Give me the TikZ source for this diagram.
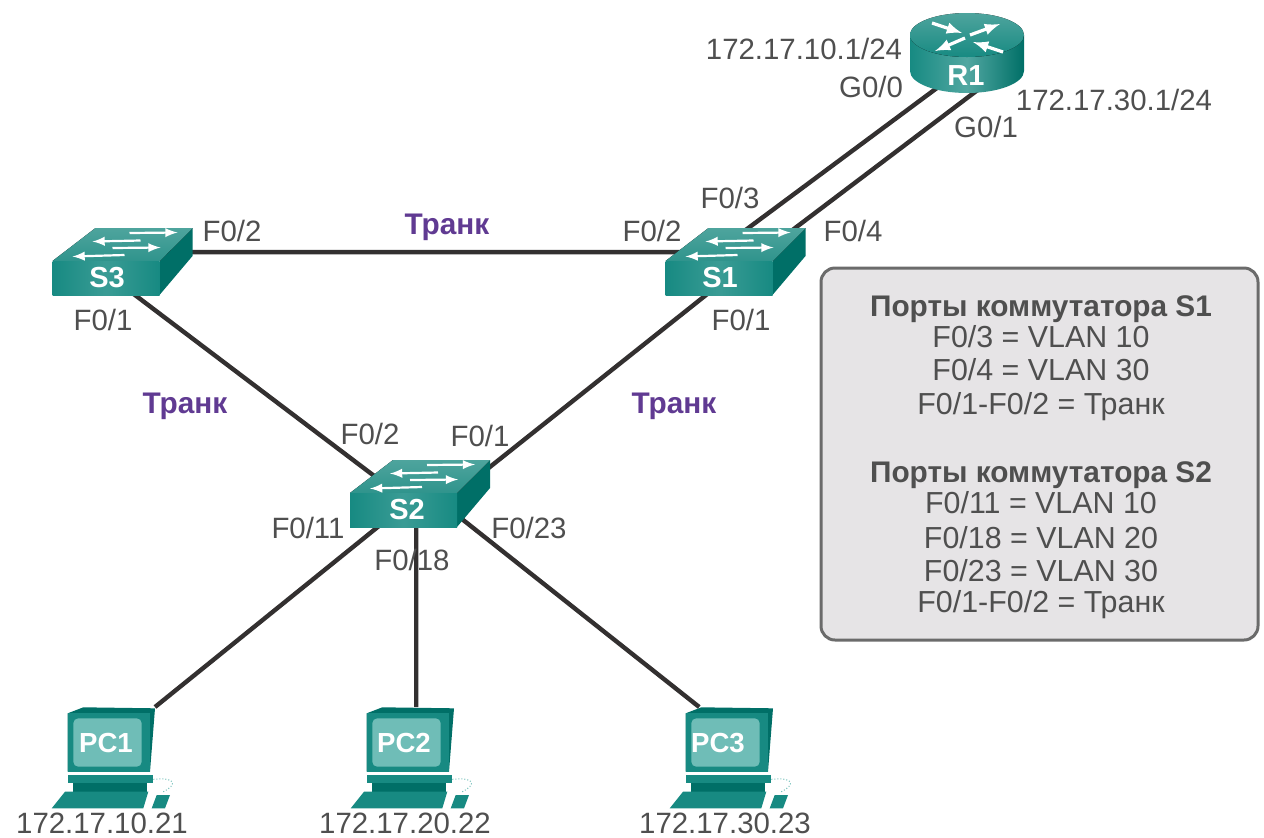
\documentclass[tikz,border=0pt]{standalone}
\usepackage{fontspec}
\setmainfont{Liberation Sans}
\definecolor{labelgray}{HTML}{4F4F4F}
\definecolor{trunkviolet}{HTML}{603A92}
\definecolor{tealtop}{HTML}{2F948C}
\definecolor{tealfront}{HTML}{178A82}
\definecolor{tealside}{HTML}{006F67}
\definecolor{tealscreen}{HTML}{6FBDB7}
\definecolor{boxgray}{HTML}{E6E4E6}
\definecolor{boxline}{HTML}{6B6B6B}
\definecolor{linkgray}{HTML}{333030}

\tikzset{
  devbox/.style={inner sep=0, outer sep=0},
  link/.style={draw=linkgray, line width=2.2pt},
  port/.style={text=labelgray, inner sep=0, font=\fontsize{14.7}{16}\selectfont},
  trunk/.style={text=trunkviolet, inner sep=0, font=\fontsize{14.9}{16}\selectfont\bfseries},
  devlabel/.style={text=white, inner sep=0, font=\fontsize{14.5}{16}\selectfont\bfseries},
  pclabel/.style={devlabel, font=\fontsize{13.8}{16}\selectfont\bfseries},
  infoline/.style={text=labelgray, inner sep=0, font=\fontsize{15.2}{16}\selectfont},
  infohead/.style={infoline, font=\fontsize{14.9}{16}\selectfont\bfseries},
  whitearrow/.style={->, >=latex, draw=white, line width=1.1pt},
  bigarrow/.style={whitearrow, line width=1.6pt},
  switchicon/.pic={
    \fill[tealside] (140,0) -- (140,28) -- (107,67) -- (107,33) -- cycle;
    \fill[top color=tealtop!85!white, bottom color=tealtop] (0,33) -- (43,0) -- (140,0) -- (107,33) -- cycle;
    \shade[left color=tealfront, right color=tealfront, middle color=tealfront!85!white] (0,33) rectangle (107,67);
    \draw[whitearrow] (77,5) -- (125,4.5);
    \draw[whitearrow] (88,12.5) -- (40,13.5);
    \draw[whitearrow] (60,20) -- (108,19.5);
    \draw[whitearrow] (72,27) -- (20,28.5);
  },
  routericon/.pic={
    \shade[left color=tealfront, right color=tealside, middle color=tealfront!75!white]
      (0,22) -- (0,58) arc[start angle=180, end angle=360, x radius=57, y radius=-22] -- (114,22) -- cycle;
    \fill[top color=tealtop!85!white, bottom color=tealfront] (57,22) ellipse[x radius=57, y radius=22];
    \draw[bigarrow] (22,10) -- (52,20);
    \draw[bigarrow] (93,39) -- (63,29);
    \draw[bigarrow] (60,22) -- (90,11);
    \draw[bigarrow] (55,25) -- (25,38);
  },
  pcicon/.pic={
    \fill[tealside] (15.7,6.3) -- (31.3,0.3) -- (103,1.3) -- (98,64.7) -- (15.7,64.7) -- cycle;
    \fill[tealfront] (15.7,6.3) rectangle (98,64.7);
    \fill[tealscreen, rounded corners=2.5pt] (21.3,11.3) rectangle (89.7,59.7);
    \fill[tealfront] (16.3,68) rectangle (101,76.3);
    \fill[tealside] (21.3,76.3) rectangle (94.7,84.7);
    \fill[tealfront] (-0.3,101.3) -- (13,84.7) -- (96.3,84.7) -- (91.3,101.3) -- cycle;
    \fill[tealfront] (99.7,101.3) -- (104.7,88) -- (118,88) -- (113,101.3) -- cycle;
    \draw[tealscreen, densely dotted, line width=0.5pt] (101.3,72.3) .. controls (125,70) and (125,78) .. (111.3,84.7);
  }
}

\begin{document}
\begin{tikzpicture}[x=0.5pt, y=-0.5pt]
  \clip (0,0) rectangle (1264,837);

  % devices, the icons go on top of the links later
  \node[devbox, minimum width=57pt, minimum height=20pt] (R1) at (967,60) {};
  \node[devbox, minimum width=35pt, minimum height=20pt] (S1) at (735.5,261.5) {};
  \node[devbox, minimum width=35pt, minimum height=20pt] (S3) at (122.5,261.5) {};
  \node[devbox, minimum width=35pt, minimum height=20pt] (S2) at (420,493.5) {};
  \node[devbox, minimum width=43.5pt, minimum height=32.5pt] (PC1) at (111.5,739.5) {};
  \node[devbox, minimum width=43.5pt, minimum height=32.5pt] (PC2) at (410.5,739.5) {};
  \node[devbox, minimum width=43.5pt, minimum height=32.5pt] (PC3) at (729.5,739.5) {};

  \draw[link]
    (R1.226) -- (S1.105)
    (R1.320) -- (S1.23)
    (S3.15)  -- (S1.165)
    (S3.255) -- (S2.165)
    (S1.238) -- (S2.358)
    (S2.218) -- (PC1.north east)
    (S2.south -| PC2.80) -- (PC2.80)
    (S2.south east) -- (PC3.133);

  \pic at ([shift={(-57,-47)}]R1.center) {routericon};
  \pic at ([shift={(-70,-33.5)}]S1.center) {switchicon};
  \pic at ([shift={(-70,-33.5)}]S3.center) {switchicon};
  \pic at ([shift={(-70,-33.5)}]S2.center) {switchicon};
  \pic at ([shift={(-59.5,-32.5)}]PC1.center) {pcicon};
  \pic at ([shift={(-59.5,-32.5)}]PC2.center) {pcicon};
  \pic at ([shift={(-59.5,-32.5)}]PC3.center) {pcicon};

  \node[devlabel] (R1name) at (966,76) {R1};
  \node[devlabel] (S1name) at (720,278) {S1};
  \node[devlabel] (S3name) at (107,278) {S3};
  \node[devlabel] (S2name) at (407,510) {S2};
  \node[pclabel] (PC1name) at (106,743) {PC1};
  \node[pclabel] (PC2name) at (404,743) {PC2};
  \node[pclabel] (PC3name) at (718,743) {PC3};

  \node[port] (ipR1a) at (804,49) {172.17.10.1/24};
  \node[port] (ipR1b) at (1114,100) {172.17.30.1/24};
  \node[port] (r1g0) at (871,87) {G0/0};
  \node[port] (r1g1) at (986,127) {G0/1};
  \node[port] (s1f3) at (730,198) {F0/3};
  \node[port] (s1f4) at (853,231) {F0/4};
  \node[port] (s1f2) at (652,231) {F0/2};
  \node[port] (s1f1) at (741,320) {F0/1};
  \node[port] (s3f2) at (232,231) {F0/2};
  \node[port] (s3f1) at (103,320) {F0/1};
  \node[port] (s2f2) at (370,434) {F0/2};
  \node[port] (s2f1) at (480,436) {F0/1};
  \node[port] (s2f11) at (308,528) {F0/11};
  \node[port] (s2f18) at (412,560) {F0/18};
  \node[port] (s2f23) at (529,528) {F0/23};

  \node[trunk] (trunkA) at (447,227) {Транк};
  \node[trunk] (trunkB) at (185,406) {Транк};
  \node[trunk] (trunkC) at (674,406) {Транк};

  \node[port] (ipPC1) at (102,823) {172.17.10.21};
  \node[port] (ipPC2) at (405,823) {172.17.20.22};
  \node[port] (ipPC3) at (725,823) {172.17.30.23};

  % ports table
  \node[draw=boxline, fill=boxgray, line width=1.5pt, rounded corners=7pt,
        minimum width=218.5pt, minimum height=186pt, inner sep=0]
    (portbox) at (1039.5,454) {};

  \node[infohead] (h1) at (1041,309) {Порты коммутатора S1};
  \node[infoline] (l1) at (1041,337) {F0/3 = VLAN 10};
  \node[infoline] (l2) at (1041,370) {F0/4 = VLAN 30};
  \node[infoline] (l3) at (1041,407) {F0/1-F0/2 = Транк};
  \node[infohead] (h2) at (1041,475) {Порты коммутатора S2};
  \node[infoline] (l4) at (1041,503) {F0/11 = VLAN 10};
  \node[infoline] (l5) at (1041,538) {F0/18 = VLAN 20};
  \node[infoline] (l6) at (1041,571) {F0/23 = VLAN 30};
  \node[infoline] (l7) at (1041,605) {F0/1-F0/2 = Транк};
\end{tikzpicture}
\end{document}
